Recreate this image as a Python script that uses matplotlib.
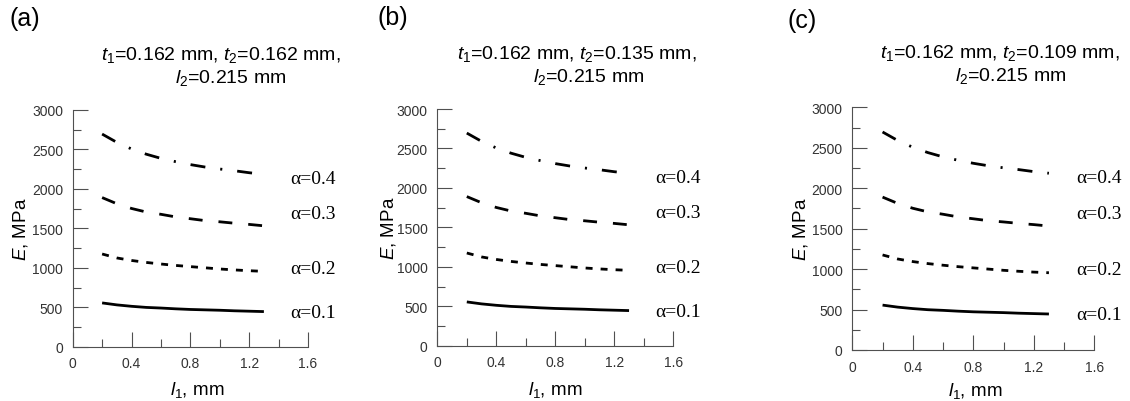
import matplotlib
matplotlib.use("Agg")
import matplotlib.pyplot as plt
from matplotlib.ticker import MultipleLocator

plt.rcParams['font.family'] = ['Liberation Sans', 'DejaVu Sans']
plt.rcParams['mathtext.fontset'] = 'custom'
plt.rcParams['mathtext.rm'] = 'Liberation Sans'
plt.rcParams['mathtext.it'] = 'Liberation Sans:italic'
plt.rcParams['lines.scale_dashes'] = False

# ---- data ----
l1 = [0.2, 0.3, 0.4, 0.5, 0.6, 0.7, 0.8, 0.9, 1.0, 1.1, 1.2, 1.3]
E_a01 = [555, 530, 512, 498, 490, 480, 472, 467, 462, 455, 450, 445]
E_a02 = [1175, 1125, 1093, 1068, 1048, 1030, 1015, 1000, 985, 973, 963, 955]
E_a03 = [1890, 1812, 1752, 1707, 1678, 1645, 1622, 1598, 1583, 1565, 1550, 1532]
E_a04 = [2695, 2590, 2506, 2440, 2387, 2345, 2308, 2277, 2252, 2230, 2205, 2185]
series_labels = ['α=0.1', 'α=0.2', 'α=0.3', 'α=0.4']
label_y = [436, 994, 1682, 2134]
panel_letters = ['(a)', '(b)', '(c)']
t2_values = ['0.162', '0.135', '0.109']
x_ticks = [0, 0.4, 0.8, 1.2, 1.6]
x_ticklabels = ['0', '0.4', '0.8', '1.2', '1.6']
y_ticks = [0, 500, 1000, 1500, 2000, 2500, 3000]

W, H = 1130, 402
fig = plt.figure(figsize=(W / 100, H / 100), dpi=100)

# axes boxes in pixels: left, right, top, bottom
boxes = [(72.7, 308.0, 111.0, 347.7),
         (437.3, 673.3, 110.0, 346.7),
         (852.3, 1094.3, 108.3, 351.0)]
title1_pos = [(221, 60), (577, 59.5), (1000, 58)]
title2_pos = [(231, 82.7), (589, 82), (1011, 81)]
letter_pos = [(24.5, 19), (393, 18), (802, 21)]
ylabel_x = [21, 388, 800]
xlabel_pos = [(197, 390), (555, 390), (975, 391)]

styles = ['-', (0, (5, 5.8)), (0, (10, 11.5)), (0, (10.8, 10.8, 1.5, 10.8))]
series = [E_a01, E_a02, E_a03, E_a04]
gray = '#505050'

for i, (l, r, t, b) in enumerate(boxes):
    ax = fig.add_axes([l / W, 1 - b / H, (r - l) / W, (b - t) / H])
    for s, ls in zip(series, styles):
        ax.plot(l1, s, color='black', lw=2.0, linestyle=ls, solid_capstyle='butt',
                dash_capstyle='butt')
    for lab, ly in zip(series_labels, label_y):
        ax.text(1.48, ly, lab, fontsize=14, family='Liberation Serif',
                ha='left', va='center', clip_on=False)
    ax.set_xlim(0, 1.6)
    ax.set_ylim(0, 3000)
    ax.set_xticks(x_ticks)
    ax.set_xticklabels(x_ticklabels)
    ax.set_yticks(y_ticks)
    ax.xaxis.set_minor_locator(MultipleLocator(0.2))
    ax.yaxis.set_minor_locator(MultipleLocator(250))
    ax.tick_params(which='major', direction='in', length=10.8, width=0.8,
                   color=gray, labelsize=10, labelcolor='#333333', pad=7)
    ax.tick_params(which='minor', direction='in', length=5.8, width=0.8, color=gray)
    for sp in ['top', 'right']:
        ax.spines[sp].set_visible(False)
    for sp in ['left', 'bottom']:
        ax.spines[sp].set_color(gray)
        ax.spines[sp].set_linewidth(0.8)

    xl, yl = xlabel_pos[i]
    fig.text(xl / W, 1 - yl / H, r'$\mathit{l}_1$, mm', fontsize=13.5,
             ha='center', va='center')
    fig.text(ylabel_x[i] / W, 1 - (t + b) / 2 / H, r'$\mathit{E}$, MPa',
             fontsize=13.5, ha='center', va='center', rotation=90)

    x1, y1 = title1_pos[i]
    fig.text(x1 / W, 1 - y1 / H,
             r'$\mathit{t}_1$=0.162 mm, $\mathit{t}_2$=' + t2_values[i] + ' mm,',
             fontsize=14, ha='center', va='baseline')
    x2, y2 = title2_pos[i]
    fig.text(x2 / W, 1 - y2 / H, r'$\mathit{l}_2$=0.215 mm',
             fontsize=14, ha='center', va='baseline')
    lx, lyy = letter_pos[i]
    fig.text(lx / W, 1 - lyy / H, panel_letters[i], fontsize=18,
             ha='center', va='center')

fig.savefig('out.png', dpi=100)
